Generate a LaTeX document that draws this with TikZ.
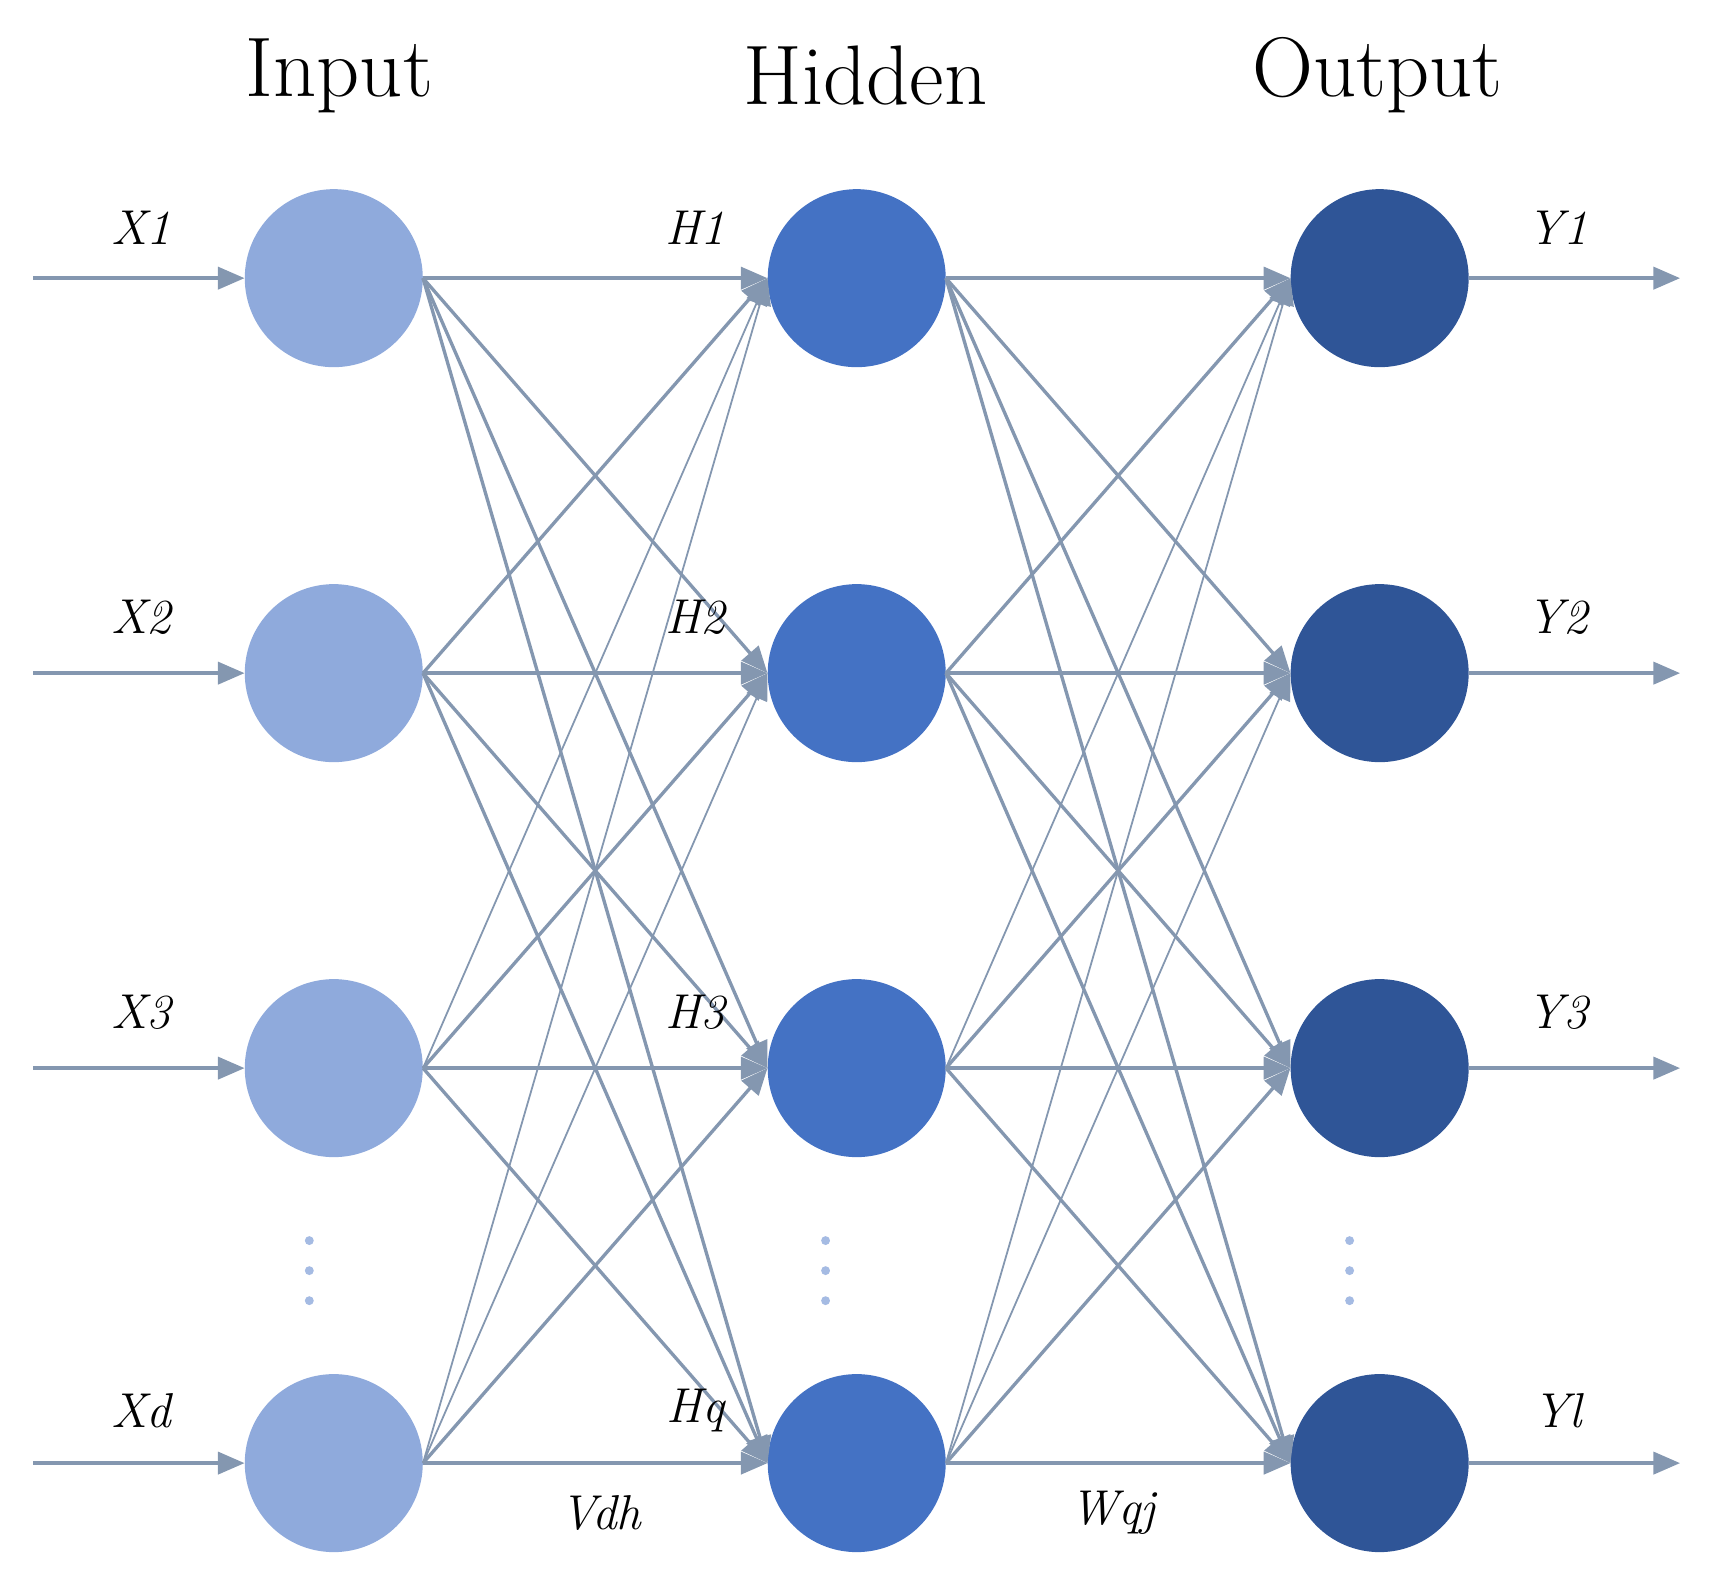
\documentclass[tikz,border=0pt]{standalone}
\usetikzlibrary{arrows.meta}
\definecolor{inC}{HTML}{8FAADC}
\definecolor{hidC}{HTML}{4472C4}
\definecolor{outC}{HTML}{2F5597}
\definecolor{lnC}{HTML}{8497B0}
\begin{document}
\begin{tikzpicture}[x=1pt,y=-1pt,
  neuron/.style={circle,minimum size=160pt,inner sep=0pt,draw=none},
  conn/.style={draw=lnC,line width=3pt,-{Triangle[length=24pt,width=20pt]}},
  thinconn/.style={conn,line width=1.6pt},
  lab/.style={font=\fontsize{44}{50}\selectfont\itshape},
  title/.style={font=\fontsize{76}{80}\selectfont},
  dots/.style={circle,fill=inC!80,inner sep=0pt,minimum size=8pt}]
\useasboundingbox (0,0) rectangle (1545,1430);
\foreach \i/\y in {1/250,2/605,3/960,4/1315}{
  \node[neuron,fill=inC] (i\i) at (300,\y) {};
  \node[neuron,fill=hidC] (h\i) at (770,\y) {};
  \node[neuron,fill=outC] (o\i) at (1240,\y) {};
  \coordinate (s\i) at (30,\y);
  \coordinate (e\i) at (1510,\y);
}
\foreach \i in {1,...,4}{
  \draw[conn] (s\i) -- (i\i.west);
  \draw[conn] (o\i.east) -- (e\i);
}
\foreach \a in {1,...,4}{
  \foreach \b in {1,...,4}{
    \pgfmathtruncatemacro{\d}{\a-\b}
    \ifnum\d>1
      \draw[thinconn] (i\a.east) -- (h\b.west);
      \draw[thinconn] (h\a.east) -- (o\b.west);
    \else
      \draw[conn] (i\a.east) -- (h\b.west);
      \draw[conn] (h\a.east) -- (o\b.west);
    \fi
  }
}
\node[title] (t1) at (305,68) {Input};
\node[title] (t2) at (778,68) {Hidden};
\node[title] (t3) at (1238,68) {Output};
\foreach \i/\y/\x/\h/\o in {1/205/X1/H1/Y1,2/555/X2/H2/Y2,3/910/X3/H3/Y3,4/1268/Xd/Hq/Yl}{
  \node[lab] (lx\i) at (127,\y) {\x};
  \node[lab] (lh\i) at (625,\y) {\h};
  \node[lab] (ly\i) at (1400,\y) {\o};
}
\node[lab] (v) at (540,1360) {Vdh};
\node[lab] (w) at (1000,1360) {Wqj};
\foreach \x/\n in {278/a,742/b,1213/c}{
  \node[dots] (\n1) at (\x,1115) {};
  \node[dots] (\n2) at (\x,1142) {};
  \node[dots] (\n3) at (\x,1169) {};
}
\end{tikzpicture}
\end{document}
